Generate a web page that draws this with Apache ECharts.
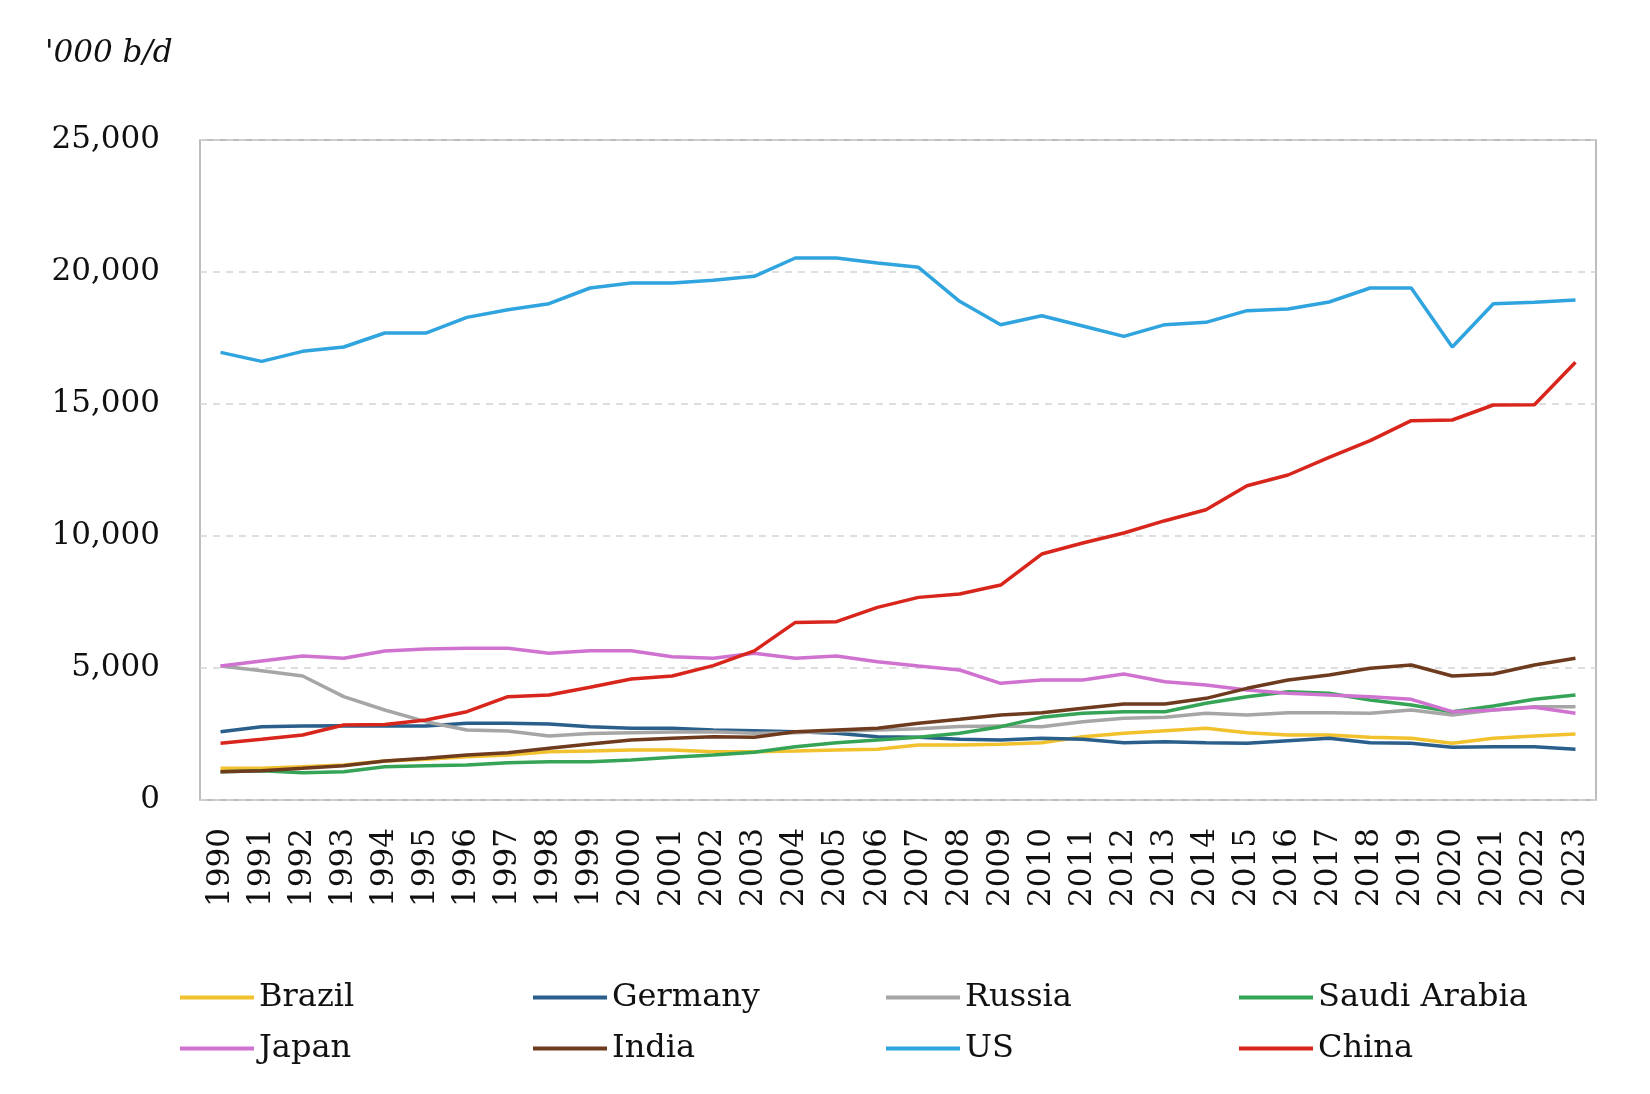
<!DOCTYPE html>
<html>
<head>
<meta charset="utf-8">
<script src="https://cdn.jsdelivr.net/npm/echarts@6/dist/echarts.min.js"></script>
<style>
html,body{margin:0;padding:0;background:#fff;}
#chart{width:1650px;height:1094px;}
</style>
</head>
<body>
<div id="chart"></div>
<script>
var years = ['1990','1991','1992','1993','1994','1995','1996','1997','1998','1999','2000','2001','2002','2003','2004','2005','2006','2007','2008','2009','2010','2011','2012','2013','2014','2015','2016','2017','2018','2019','2020','2021','2022','2023'];
var yTicks = [0, 5000, 10000, 15000, 20000, 25000];

var brazil = [1200,1200,1263,1326,1477,1540,1641,1704,1830,1860,1890,1890,1830,1830,1856,1894,1919,2083,2083,2108,2172,2399,2525,2627,2715,2551,2462,2462,2374,2336,2147,2336,2424,2500];
var germany = [2588,2778,2803,2816,2803,2803,2904,2904,2878,2778,2714,2714,2652,2627,2588,2525,2399,2374,2298,2273,2336,2298,2172,2210,2172,2147,2248,2336,2172,2147,1995,2020,2020,1919];
var russia = [5076,4898,4697,3914,3409,2967,2652,2614,2424,2520,2550,2576,2588,2525,2550,2600,2650,2700,2780,2800,2778,2967,3093,3131,3283,3220,3308,3308,3283,3409,3220,3409,3535,3535];
var saudi = [1073,1111,1035,1073,1263,1300,1326,1414,1452,1452,1515,1616,1704,1806,2020,2172,2273,2374,2525,2778,3131,3283,3346,3346,3662,3914,4104,4040,3788,3598,3346,3560,3813,3977];
var japan = [5076,5265,5455,5366,5644,5720,5745,5745,5556,5657,5657,5430,5366,5556,5366,5455,5240,5076,4924,4419,4546,4546,4773,4482,4356,4167,4040,3977,3914,3813,3346,3409,3510,3283];
var india = [1073,1111,1200,1300,1477,1578,1704,1793,1957,2121,2273,2336,2399,2374,2588,2652,2715,2904,3056,3220,3308,3472,3636,3636,3851,4230,4546,4735,4988,5114,4697,4773,5114,5366];
var us = [16956,16615,16994,17158,17689,17689,18282,18573,18800,19394,19583,19583,19684,19836,20530,20530,20341,20177,18889,18005,18345,17954,17562,18005,18093,18535,18598,18863,19394,19394,17158,18800,18851,18939];
var china = [2147,2298,2462,2841,2860,3030,3346,3914,3977,4268,4583,4697,5090,5650,6727,6753,7296,7675,7801,8142,9317,9733,10112,10580,10996,11906,12310,12979,13611,14369,14394,14962,14975,16579];

var seriesNames = ['Brazil','Germany','Russia','Saudi Arabia','Japan','India','US','China'];
var seriesData = [brazil, germany, russia, saudi, japan, india, us, china];
var seriesColors = ['#F2C12E','#2A5F8C','#A6A6A6','#35A456','#D072D0','#6E3B1F','#2FA4DE','#D8261C'];

var FONT = 'DejaVu Serif';
var TEXT = '#111111';

var chart = echarts.init(document.getElementById('chart'), null, {renderer:'canvas'});
var option = {
  backgroundColor: '#ffffff',
  animation: false,
  title: {
    text: "'000 b/d",
    left: 40,
    top: 33,
    textStyle: {fontFamily: FONT, fontStyle: 'italic', fontWeight: 'normal', fontSize: 31, color: TEXT}
  },
  grid: {
    left: 200, right: 54, top: 140, bottom: 294,
    show: true, borderColor: '#A8A8A8', borderWidth: 1.5, backgroundColor: 'transparent'
  },
  legend: {
    data: seriesNames,
    left: 175,
    top: 972,
    width: 1420,
    orient: 'horizontal',
    icon: 'rect',
    itemWidth: 74,
    itemHeight: 4,
    itemGap: 10,
    textStyle: {fontFamily: FONT, fontSize: 32, color: TEXT, width: 264, lineHeight: 41}
  },
  xAxis: {
    type: 'category',
    data: years,
    boundaryGap: true,
    axisLine: {show: false},
    axisTick: {show: false},
    axisLabel: {rotate: 90, interval: 0, margin: 28, fontFamily: FONT, fontSize: 31, color: TEXT},
    splitLine: {show: false}
  },
  yAxis: {
    type: 'value',
    min: yTicks[0],
    max: yTicks[yTicks.length - 1],
    interval: yTicks[1] - yTicks[0],
    axisLine: {show: false},
    axisTick: {show: false},
    axisLabel: {
      margin: 40, fontFamily: FONT, fontSize: 31, color: TEXT,
      formatter: function (v) { return v.toLocaleString('en-US'); }
    },
    splitLine: {show: true, lineStyle: {color: '#D4D4D4', width: 1.5, type: [7, 6]}}
  },
  series: seriesNames.map(function (name, i) {
    return {
      name: name,
      type: 'line',
      data: seriesData[i],
      symbol: 'none',
      smooth: false,
      lineStyle: {width: 3.5, color: seriesColors[i]},
      itemStyle: {color: seriesColors[i]},
      z: 2 + i
    };
  })
};
chart.setOption(option);
</script>
</body>
</html>
